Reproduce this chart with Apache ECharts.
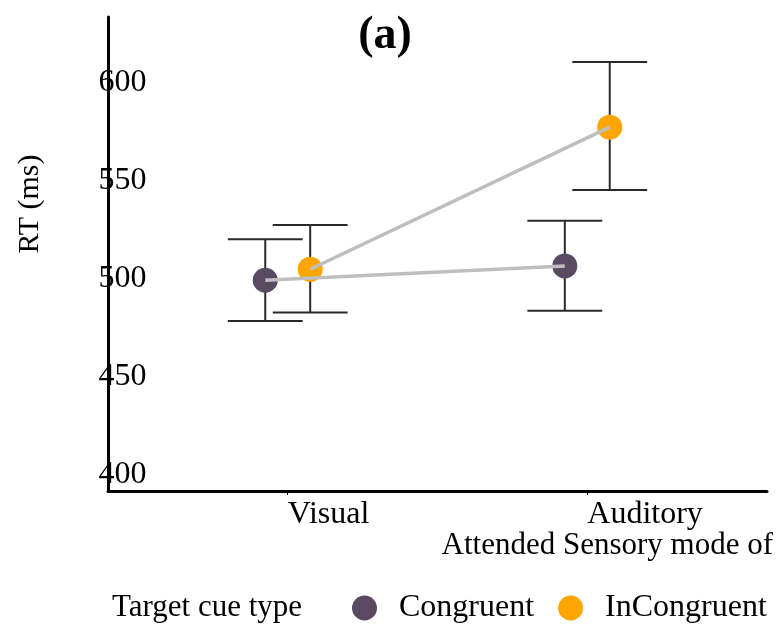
<!DOCTYPE html>
<html>
<head>
<meta charset="utf-8">
<script src="https://cdn.jsdelivr.net/npm/echarts@6/dist/echarts.min.js"></script>
<style>
  html, body { margin: 0; padding: 0; background: #fff; }
  #chart { width: 782px; height: 627px; }
</style>
</head>
<body>
<div id="chart"></div>
<script>
// Mean RT (ms) with error-bar limits per attended sensory mode and cue type
const categories = ['Visual', 'Auditory'];
const congruentRT = [497.8, 505.1];
const congruentLow = [477.0, 482.3];
const congruentHigh = [518.7, 528.1];
const incongruentRT = [503.4, 575.9];
const incongruentLow = [481.3, 543.9];
const incongruentHigh = [526.0, 609.2];
const yTicks = [400, 450, 500, 550, 600];

const FONT = '"Liberation Serif", "Times New Roman", serif';
const DODGE = 0.075;      // horizontal offset of each group from the category centre
const CAP_HALF = 0.125;   // half width of the error-bar caps (x units)
const catX = categories.map((c, i) => i + 1);

function points(means, shift) {
  return means.map((v, i) => [catX[i] + shift, v]);
}
function bars(low, high, shift) {
  return low.map((lo, i) => [catX[i] + shift, lo, high[i]]);
}

function renderErrorBar(params, api) {
  const x = api.value(0);
  const lo = api.coord([x, api.value(1)]);
  const hi = api.coord([x, api.value(2)]);
  const left = api.coord([x - CAP_HALF, 0])[0];
  const right = api.coord([x + CAP_HALF, 0])[0];
  const style = { stroke: '#2a2a2a', lineWidth: 2, fill: null };
  return {
    type: 'group',
    children: [
      { type: 'line', shape: { x1: lo[0], y1: lo[1], x2: hi[0], y2: hi[1] }, style: style },
      { type: 'line', shape: { x1: left, y1: hi[1], x2: right, y2: hi[1] }, style: style },
      { type: 'line', shape: { x1: left, y1: lo[1], x2: right, y2: lo[1] }, style: style }
    ]
  };
}

const chart = echarts.init(document.getElementById('chart'), null, { renderer: 'canvas' });

chart.setOption({
  animation: false,
  backgroundColor: '#fff',
  title: {
    text: '(a)',
    left: 385,
    top: 13,
    textAlign: 'center',
    padding: 0,
    textStyle: { fontFamily: FONT, fontWeight: 'bold', fontSize: 46, color: '#000', lineHeight: 46 }
  },
  grid: { left: 108, right: 15, top: 17, bottom: 136, containLabel: false },
  xAxis: {
    type: 'value',
    min: 0.4,
    max: 2.6,
    splitLine: { show: false },
    axisLine: { onZero: false, lineStyle: { color: '#000', width: 3 } },
    axisTick: { show: true, customValues: catX, length: 4, lineStyle: { color: '#000', width: 1 } },
    axisLabel: {
      customValues: catX,
      formatter: v => categories[Math.round(v) - 1],
      align: 'left',
      margin: 8,
      fontFamily: FONT,
      fontSize: 32,
      lineHeight: 32,
      color: '#000'
    }
  },
  yAxis: {
    type: 'value',
    min: 390.3,
    max: 632.1,
    splitLine: { show: false },
    axisLine: { show: true, onZero: false, lineStyle: { color: '#000', width: 3 } },
    axisTick: { show: false },
    axisLabel: {
      customValues: yTicks,
      formatter: v => '{t|' + v + '}',
      align: 'center',
      margin: -14.5,
      color: '#000',
      rich: {
        t: { fontFamily: FONT, fontSize: 32, lineHeight: 32, color: '#000', padding: [6, 0, 0, 0] }
      }
    }
  },
  legend: {
    data: ['Congruent', 'InCongruent'],
    left: 352,
    top: 592,
    icon: 'circle',
    itemWidth: 25,
    itemHeight: 25,
    itemGap: 24,
    padding: 0,
    textStyle: { fontFamily: FONT, fontSize: 32, color: '#000', padding: [0, 0, 0, 17] }
  },
  graphic: [
    {
      type: 'text',
      x: 30,
      y: 204,
      rotation: Math.PI / 2,
      style: { text: 'RT (ms)', fontFamily: FONT, fontSize: 30, fill: '#000', align: 'center', verticalAlign: 'middle' }
    },
    {
      type: 'text',
      x: 773,
      y: 546,
      style: { text: 'Attended Sensory mode of', fontFamily: FONT, fontSize: 31, fill: '#000', align: 'right', verticalAlign: 'middle' }
    },
    {
      type: 'text',
      x: 112,
      y: 608,
      style: { text: 'Target cue type', fontFamily: FONT, fontSize: 31, fill: '#000', align: 'left', verticalAlign: 'middle' }
    }
  ],
  series: [
    {
      name: 'Congruent error',
      type: 'custom',
      renderItem: renderErrorBar,
      data: bars(congruentLow, congruentHigh, -DODGE),
      z: 1
    },
    {
      name: 'InCongruent error',
      type: 'custom',
      renderItem: renderErrorBar,
      data: bars(incongruentLow, incongruentHigh, DODGE),
      z: 1
    },
    {
      name: 'Congruent',
      type: 'scatter',
      symbolSize: 25,
      itemStyle: { color: '#594A62', opacity: 1 },
      data: points(congruentRT, -DODGE),
      z: 2
    },
    {
      name: 'InCongruent',
      type: 'scatter',
      symbolSize: 25,
      itemStyle: { color: '#FFA500', opacity: 1 },
      data: points(incongruentRT, DODGE),
      z: 2
    },
    {
      name: 'Congruent line',
      type: 'line',
      showSymbol: false,
      lineStyle: { color: '#BEBEBE', width: 3.5 },
      data: points(congruentRT, -DODGE),
      z: 3
    },
    {
      name: 'InCongruent line',
      type: 'line',
      showSymbol: false,
      lineStyle: { color: '#BEBEBE', width: 3.5 },
      data: points(incongruentRT, DODGE),
      z: 3
    }
  ]
});
</script>
</body>
</html>
